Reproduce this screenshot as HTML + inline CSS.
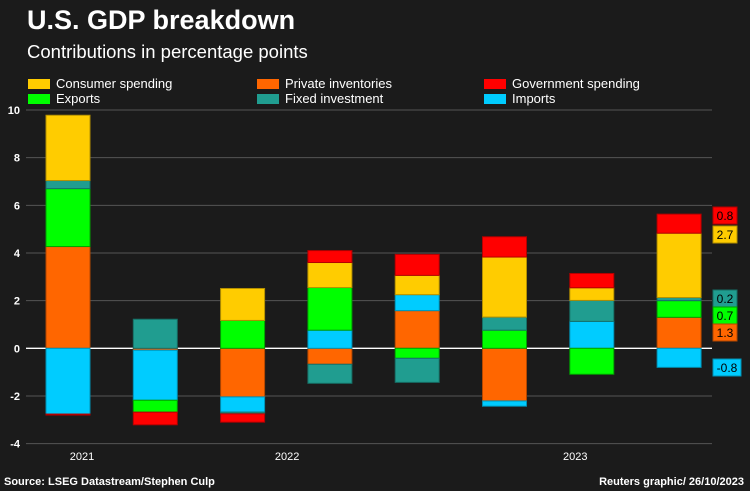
<!DOCTYPE html>
<html><head><meta charset="utf-8">
<style>
body{margin:0;background:#1b1b1b;width:750px;height:491px;overflow:hidden;font-family:"Liberation Sans",sans-serif;color:#fff;position:relative}
.t{position:absolute;white-space:nowrap}
.sw{position:absolute;width:22px;height:10px}
</style></head><body>
<div class="t" style="left:27px;top:5px;font-size:27px;font-weight:bold">U.S. GDP breakdown</div>
<div class="t" style="left:27px;top:41px;font-size:18.5px">Contributions in percentage points</div>
<div>
<div class="sw" style="left:28px;top:79px;background:#ffcc00"></div><div class="t" style="left:56px;top:76px;font-size:13px">Consumer spending</div>
<div class="sw" style="left:257px;top:79px;background:#ff6600"></div><div class="t" style="left:285px;top:76px;font-size:13px">Private inventories</div>
<div class="sw" style="left:484px;top:79px;background:#ff0000"></div><div class="t" style="left:512px;top:76px;font-size:13px">Government spending</div>
<div class="sw" style="left:28px;top:94px;background:#00ff00"></div><div class="t" style="left:56px;top:91px;font-size:13px">Exports</div>
<div class="sw" style="left:257px;top:94px;background:#209d90"></div><div class="t" style="left:285px;top:91px;font-size:13px">Fixed investment</div>
<div class="sw" style="left:484px;top:94px;background:#00ccff"></div><div class="t" style="left:512px;top:91px;font-size:13px">Imports</div>
</div>
<svg id="chart" width="750" height="491" style="position:absolute;left:0;top:0"></svg>
<div class="t" style="left:4px;top:476px;font-size:11px;font-weight:bold">Source: LSEG Datastream/Stephen Culp</div>
<div class="t" style="right:6px;top:476px;font-size:11px;font-weight:bold">Reuters graphic/ 26/10/2023</div>
<script>
const seriesNames=["Private inventories","Imports","Exports","Fixed investment","Consumer spending","Government spending"];
const colors=["#ff6600","#00ccff","#00ff00","#209d90","#ffcc00","#ff0000"];
const strokes=["#b34700","#0090b3","#00a000","#166e65","#b38f00","#b30000"];
const inventories=[4.27,-0.08,-2.04,-0.67,1.58,-2.21,0.0,1.3];
const imports=[-2.76,-2.1,-0.64,0.76,0.67,-0.22,1.13,-0.8];
const exportsS=[2.43,-0.5,1.17,1.79,-0.42,0.76,-1.09,0.7];
const fixedInv=[0.34,1.22,-0.07,-0.8,-1.01,0.55,0.88,0.13];
const consumer=[2.74,0,1.34,1.05,0.81,2.52,0.53,2.7];
const government=[-0.04,-0.53,-0.35,0.5,0.88,0.85,0.6,0.8];
const yTicks=[10,8,6,4,2,0,-2,-4];
const yearLabels=["2021","2022","2023"];
const yearIndex=[0,2.35,5.65];
const lastLabels=["0.8","2.7","0.2","0.7","1.3","-0.8"];
const data=[inventories,imports,exportsS,fixedInv,consumer,government];
const NS="http://www.w3.org/2000/svg";
const svg=document.getElementById('chart');
const y=v=>348.3-v*23.83;
const x=i=>46+i*87.3;
const bw=44;
function mk(t,a){const e=document.createElementNS(NS,t);for(const k in a)e.setAttribute(k,a[k]);svg.appendChild(e);return e;}
yTicks.forEach(v=>{
 const l=mk('line',{x1:26,x2:712,y1:y(v),y2:y(v),stroke:v===0?'#fff':'#555','stroke-width':v===0?1.3:1});
 
 
 const t=mk('text',{x:20,y:y(v)+4,'text-anchor':'end','font-size':11,fill:'#fff','font-weight':'bold'});
 t.textContent=v;
 
 
});
for(let i=0;i<inventories.length;i++){
 let pos=0,neg=0;
 data.forEach((s,k)=>{
  const v=s[i];if(!v)return;
  let y0,y1;
  if(v>0){y0=pos;y1=pos+v;pos=y1;}else{y0=neg;y1=neg+v;neg=y1;}
  const r=mk('rect',{x:x(i),y:Math.min(y(y0),y(y1)),width:bw,height:Math.abs(y(y0)-y(y1)),fill:colors[k],stroke:strokes[k],'stroke-width':1});
  
  
 });
}
yearLabels.forEach((lab,j)=>{
 const t=mk('text',{x:x(yearIndex[j])+bw/2+14,y:460,'text-anchor':'middle','font-size':11,fill:'#fff'});
 t.textContent=lab;
 
 
});
const labTops=[207,226,290,307,324,359];
const labOrder=[5,4,3,2,0,1];
lastLabels.forEach((lab,j)=>{
 const k=labOrder[j];const w=lab.length>3?28:24;
 const r=mk('rect',{x:713,y:labTops[j],width:w,height:17,fill:colors[k],stroke:strokes[k]});
 
 
 const t=mk('text',{x:713+w/2,y:labTops[j]+13,'text-anchor':'middle','font-size':12,fill:'#000'});
 t.textContent=lab;
 
 
});
</script>
</body></html>
